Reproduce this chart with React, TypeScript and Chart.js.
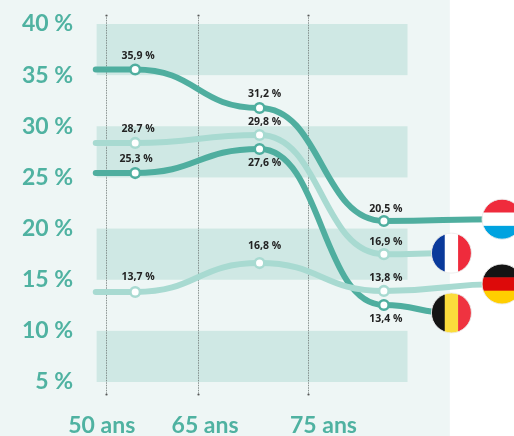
import React, { useEffect, useRef } from "react";
import { Chart, registerables } from "chart.js";

Chart.register(...registerables);

// x is a position along the age axis: the three measured points are at 1, 2, 3.
const xStart = 0.683;
const xMeasures = [1, 2, 3];

const luxembourg = [35.55, 35.55, 31.79, 20.74, 20.92];
const france = [28.37, 28.37, 29.15, 17.5, 17.6];
const belgium = [25.43, 25.43, 27.78, 12.53, 11.75];
const germany = [13.8, 13.8, 16.63, 13.9, 14.58];

const xEndFarFlag = 3.95;
const xEndNearFlag = 3.543;

const luxLabels = ["35,9 %", "31,2 %", "20,5 %"];
const franceLabels = ["28,7 %", "29,8 %", "16,9 %"];
const belgiumLabels = ["25,3 %", "27,6 %", "13,4 %"];
const germanyLabels = ["13,7 %", "16,8 %", "13,8 %"];

const yTicks = [5, 10, 15, 20, 25, 30, 35, 40];
const bands = [[5, 10], [15, 20], [25, 30], [35, 40]];
const xTickPositions = [0.731, 1.562, 2.514];
const xTickLabels = ["50 ans", "65 ans", "75 ans"];
const guides = [0.768, 1.507, 2.386];

const DARK = "#4fae9f";
const LIGHT = "#a8dad1";
const TEAL_TEXT = "#4fb2a1";

type Series = {
  name: string;
  values: number[];
  labels: string[];
  color: string;
  end: number;
  flag: string[];
  horizontal: boolean;
  dy: number[];
  dx: number[];
};

const series: Series[] = [
  { name: "Allemagne", values: germany, labels: germanyLabels, color: LIGHT, end: xEndFarFlag, flag: ["#141414", "#dd0a0a", "#ffce00"], horizontal: true, dy: [-15, -17, -13], dx: [3, 5, 2] },
  { name: "France", values: france, labels: franceLabels, color: LIGHT, end: xEndNearFlag, flag: ["#0a3a9b", "#ffffff", "#ef2b3c"], horizontal: false, dy: [-14, -13, -12], dx: [3, 5, 2] },
  { name: "Belgique", values: belgium, labels: belgiumLabels, color: DARK, end: xEndNearFlag, flag: ["#141414", "#fbdc3c", "#ef3340"], horizontal: false, dy: [-14, 14, 14], dx: [1, 5, 2] },
  { name: "Luxembourg", values: luxembourg, labels: luxLabels, color: DARK, end: xEndFarFlag, flag: ["#ef2b3c", "#ffffff", "#00a3e0"], horizontal: true, dy: [-14, -14, -12], dx: [3, 5, 2] },
];

const PANEL_END = 3.53;
const BAND_START = 0.69;
const BAND_END = 3.19;

const chartPlugin = {
  id: "decor",
  beforeDraw(chart: any) {
    const { ctx, scales } = chart;
    const x = scales.x;
    const y = scales.y;
    ctx.save();
    ctx.fillStyle = "#eef6f5";
    ctx.fillRect(0, 0, x.getPixelForValue(PANEL_END), chart.height);
    ctx.fillStyle = "#cfe8e4";
    const x0 = x.getPixelForValue(BAND_START);
    const x1 = x.getPixelForValue(BAND_END);
    bands.forEach(([a, b]) => {
      const top = y.getPixelForValue(b);
      ctx.fillRect(x0, top, x1 - x0, y.getPixelForValue(a) - top);
    });
    ctx.strokeStyle = "#6f7775";
    ctx.lineWidth = 0.8;
    guides.forEach((g) => {
      const px = Math.round(x.getPixelForValue(g)) + 0.5;
      ctx.setLineDash([1.5, 1]);
      ctx.beginPath();
      ctx.moveTo(px, chart.chartArea.top);
      ctx.lineTo(px, chart.chartArea.bottom);
      ctx.stroke();
      ctx.setLineDash([]);
      ctx.fillStyle = "#555";
      ctx.fillRect(px - 1, chart.chartArea.top, 2, 1.5);
      ctx.fillRect(px - 1, chart.chartArea.bottom - 1.5, 2, 1.5);
    });
    ctx.restore();
  },
  beforeDatasetsDraw(chart: any) {
    // Flat tangent at every node, which gives the S-shaped ribbons.
    chart.data.datasets.forEach((_: any, i: number) => {
      const meta = chart.getDatasetMeta(i);
      const line = meta.dataset;
      line.updateControlPoints(chart.chartArea, "x");
      const pts = meta.data;
      pts.forEach((p: any, k: number) => {
        const prev = pts[k - 1];
        const next = pts[k + 1];
        p.cp1x = prev ? p.x - (p.x - prev.x) * 0.5 : p.x;
        p.cp1y = p.y;
        p.cp2x = next ? p.x + (next.x - p.x) * 0.5 : p.x;
        p.cp2y = p.y;
      });
    });
  },
  afterDraw(chart: any) {
    const { ctx } = chart;
    ctx.save();
    series.forEach((s, i) => {
      const pts = chart.getDatasetMeta(i).data;
      ctx.font = "700 10.5px 'Open Sans'";
      ctx.fillStyle = "#232323";
      ctx.textAlign = "center";
      ctx.textBaseline = "middle";
      s.labels.forEach((text, k) => {
        const p = pts[k + 1];
        ctx.fillText(text, p.x + s.dx[k], p.y + s.dy[k]);
      });
      const end = pts[pts.length - 1];
      const r = 20;
      ctx.save();
      ctx.beginPath();
      ctx.arc(end.x, end.y, r, 0, Math.PI * 2);
      ctx.clip();
      const w = (2 * r) / 3;
      s.flag.forEach((color, k) => {
        ctx.fillStyle = color;
        if (s.horizontal) ctx.fillRect(end.x - r, end.y - r + k * w, 2 * r, w + 0.5);
        else ctx.fillRect(end.x - r + k * w, end.y - r, w + 0.5, 2 * r);
      });
      ctx.restore();
      ctx.beginPath();
      ctx.arc(end.x, end.y, r, 0, Math.PI * 2);
      ctx.strokeStyle = "rgba(235,235,235,0.9)";
      ctx.lineWidth = 1;
      ctx.stroke();
    });
    ctx.restore();
  },
};

export default function App() {
  const ref = useRef<HTMLCanvasElement>(null);
  useEffect(() => {
    const chart = new Chart(ref.current as HTMLCanvasElement, {
      type: "line",
      plugins: [chartPlugin],
      data: {
        datasets: series.map((s) => {
          const xs = [xStart, ...xMeasures, s.end];
          return {
            label: s.name,
            data: s.values.map((v, i) => ({ x: xs[i], y: v })),
            borderColor: s.color,
            borderWidth: 6,
            borderCapStyle: "round",
            tension: 0.4,
            clip: false,
            pointRadius: xs.map((_, i) => (i === 0 || i === xs.length - 1 ? 0 : 4.8)),
            pointBackgroundColor: "#ffffff",
            pointBorderColor: s.color,
            pointBorderWidth: 2.6,
          };
        }),
      },
      options: {
        animation: false,
        responsive: false,
        devicePixelRatio: 1,
        layout: { padding: { top: 14.8, right: 5.75, left: 0, bottom: 0 } },
        plugins: { legend: { display: false }, tooltip: { enabled: false } },
        scales: {
          x: {
            type: "linear",
            min: 0.5,
            max: 4,
            grid: { display: false, drawTicks: false },
            border: { display: false },
            afterBuildTicks: (axis: any) => {
              axis.ticks = xTickPositions.map((value) => ({ value }));
            },
            afterFit: (axis: any) => {
              axis.height = 40.7;
            },
            ticks: {
              autoSkip: false,
              maxRotation: 0,
              padding: 16,
              color: TEAL_TEXT,
              font: { family: "Lato", size: 23, weight: "700" },
              callback: (_v: any, i: number) => xTickLabels[i],
            },
          },
          y: {
            type: "linear",
            min: 3.7,
            max: 40.9,
            grid: { display: false, drawTicks: false },
            border: { display: false },
            afterBuildTicks: (axis: any) => {
              axis.ticks = yTicks.map((value) => ({ value }));
            },
            afterFit: (axis: any) => {
              axis.width = 73;
            },
            ticks: {
              padding: 0,
              color: TEAL_TEXT,
              font: { family: "Lato", size: 23, weight: "700" },
              callback: (v: any) => `${v} %`,
            },
          },
        },
      },
    } as any);
    return () => chart.destroy();
  }, []);
  return (
    <canvas
      ref={ref}
      width={514}
      height={436}
      style={{ position: "absolute", left: 0, top: 0, width: 514, height: 436 }}
    />
  );
}
